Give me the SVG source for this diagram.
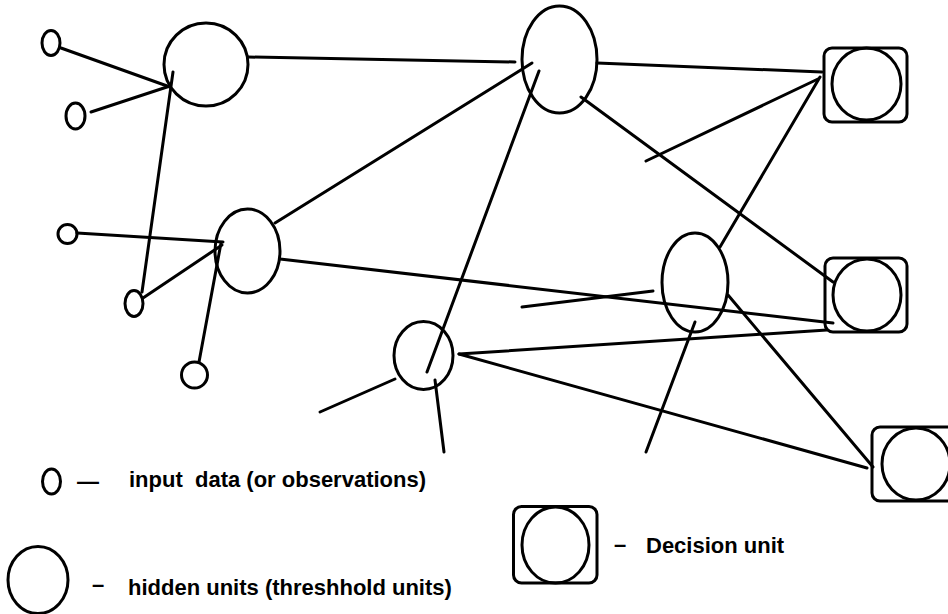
<svg xmlns="http://www.w3.org/2000/svg" width="948" height="614" viewBox="0 0 948 614">
  <style>
    .unit { fill: none; stroke: #000; stroke-width: 3; }
    .box { fill: none; stroke: #000; stroke-width: 3; }
    .link { stroke: #000; stroke-width: 3; stroke-linecap: round; fill: none; }
    .label { font-family: "Liberation Sans", Arial, Helvetica, sans-serif; font-weight: bold; font-size: 22px; fill: #000; white-space: pre; }
  </style>
  <rect width="948" height="614" fill="#fff"/>

  <!-- weighted connections -->
  <g id="connectors">
    <!-- inputs to first hidden layer -->
    <line class="link" x1="61" y1="48" x2="170" y2="87"/>
    <line class="link" x1="91" y1="112" x2="170" y2="86"/>
    <line class="link" x1="142" y1="292" x2="173" y2="72"/>
    <line class="link" x1="77" y1="233" x2="223" y2="242"/>
    <line class="link" x1="143" y1="298" x2="222" y2="245"/>
    <line class="link" x1="199" y1="362" x2="221" y2="243"/>
    <!-- hidden to hidden -->
    <line class="link" x1="248" y1="57" x2="515" y2="62"/>
    <line class="link" x1="275" y1="223" x2="532" y2="63"/>
    <line class="link" x1="427" y1="372" x2="539" y2="71"/>
    <!-- hidden to decision -->
    <line class="link" x1="280" y1="259" x2="833" y2="323"/>
    <line class="link" x1="597" y1="63" x2="822" y2="72"/>
    <line class="link" x1="581" y1="97" x2="833" y2="282"/>
    <line class="link" x1="720" y1="247" x2="820" y2="77"/>
    <line class="link" x1="459" y1="354" x2="827" y2="330"/>
    <line class="link" x1="459" y1="354" x2="867" y2="468"/>
    <line class="link" x1="728" y1="295" x2="873" y2="467"/>
    <!-- open-ended connections -->
    <line class="link" x1="646" y1="161" x2="818" y2="79"/>
    <line class="link" x1="522" y1="307" x2="653" y2="291"/>
    <line class="link" x1="395" y1="379" x2="320" y2="412"/>
    <line class="link" x1="435" y1="380" x2="444" y2="452"/>
    <line class="link" x1="695" y1="322" x2="646" y2="452"/>
  </g>

  <!-- input units -->
  <g id="input-1"><ellipse class="unit" cx="51" cy="43" rx="9" ry="12.5"/></g>
  <g id="input-2"><ellipse class="unit" cx="75.5" cy="116" rx="9.5" ry="13"/></g>
  <g id="input-3"><ellipse class="unit" cx="67.5" cy="234" rx="9.5" ry="9.5"/></g>
  <g id="input-4"><ellipse class="unit" cx="134" cy="303.5" rx="9" ry="13"/></g>
  <g id="input-5"><ellipse class="unit" cx="194.5" cy="375" rx="13" ry="13"/></g>

  <!-- hidden (threshold) units -->
  <g id="hidden-1"><ellipse class="unit" cx="206" cy="64.5" rx="42" ry="41.5"/></g>
  <g id="hidden-2"><ellipse class="unit" cx="247.5" cy="251" rx="32.5" ry="42"/></g>
  <g id="hidden-3"><ellipse class="unit" cx="559.5" cy="59.5" rx="37.5" ry="53.5"/></g>
  <g id="hidden-4"><ellipse class="unit" cx="423.5" cy="355.5" rx="29.5" ry="34"/></g>
  <g id="hidden-5"><ellipse class="unit" cx="695" cy="282.5" rx="33" ry="49.5"/></g>

  <!-- decision units -->
  <g id="decision-1">
    <rect class="box" x="824" y="48" width="83" height="74" rx="8"/>
    <ellipse class="unit" cx="866.5" cy="84" rx="34.5" ry="36"/>
  </g>
  <g id="decision-2">
    <rect class="box" x="825" y="258" width="82" height="74" rx="8"/>
    <ellipse class="unit" cx="867" cy="295" rx="34" ry="36"/>
  </g>
  <g id="decision-3">
    <rect class="box" x="872" y="427" width="83" height="74" rx="8"/>
    <ellipse class="unit" cx="916" cy="464" rx="34" ry="36"/>
  </g>

  <!-- legend -->
  <g id="legend-input">
    <ellipse class="unit" cx="51.5" cy="481.5" rx="9" ry="12.5"/>
    <text class="label" x="77" y="489">—</text>
    <text class="label" x="129" y="487">input  data (or observations)</text>
  </g>
  <g id="legend-hidden">
    <ellipse class="unit" cx="38" cy="580" rx="30" ry="33.5"/>
    <text class="label" x="92" y="592">–</text>
    <text class="label" x="128" y="595">hidden units (threshhold units)</text>
  </g>
  <g id="legend-decision">
    <rect class="box" x="513.5" y="506.5" width="83.5" height="76.5" rx="8"/>
    <ellipse class="unit" cx="555.5" cy="545" rx="33.5" ry="38"/>
    <text class="label" x="614" y="552">–</text>
    <text class="label" x="646" y="553">Decision unit</text>
  </g>
</svg>
